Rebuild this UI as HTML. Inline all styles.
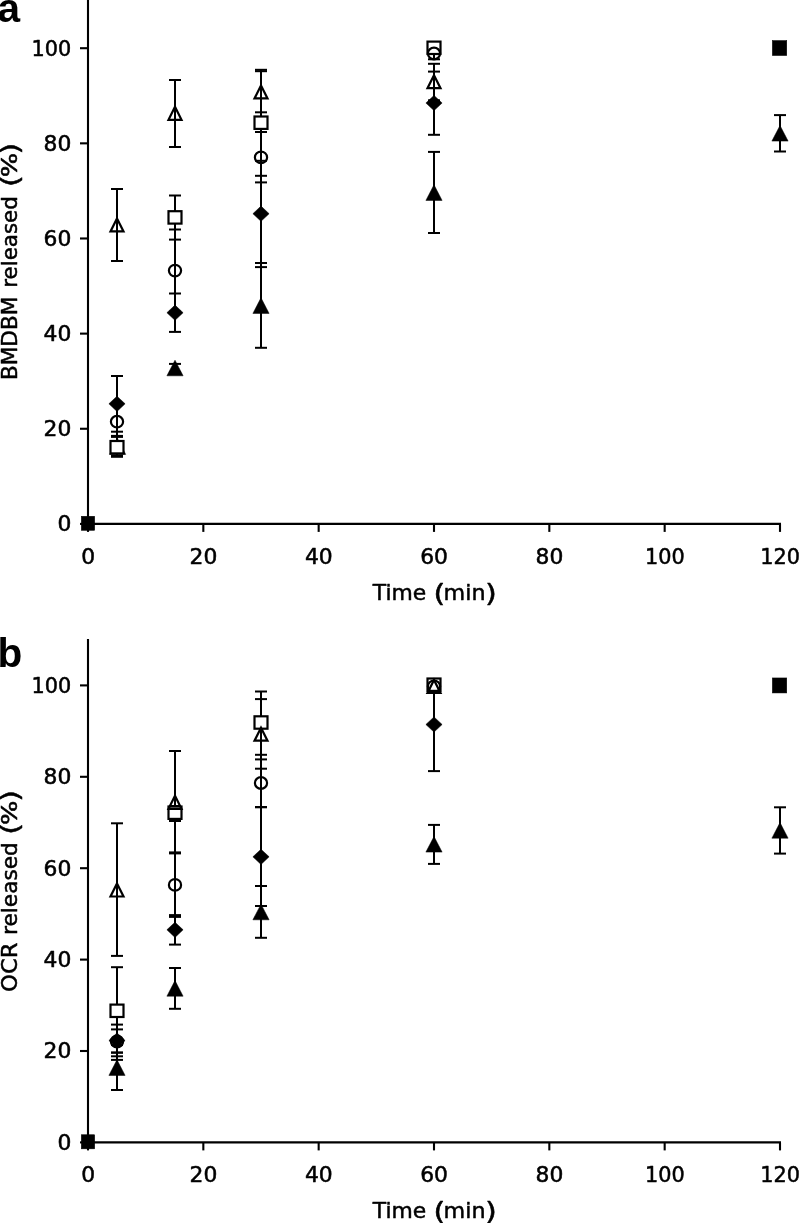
<!DOCTYPE html>
<html lang="en"><head><meta charset="utf-8"><title>Release profiles</title>
<style>
html,body{margin:0;padding:0;background:#fff}
body{width:799px;height:1223px;overflow:hidden}
svg{display:block}
text{font-family:"DejaVu Sans", "Liberation Sans", sans-serif;fill:#000;stroke:#000;stroke-width:0.5px;stroke-linejoin:round}
.tl text{font-size:20.4px}
.tt{font-size:22px}
.bp{font-size:24.6px}
.pl{font-family:"Liberation Sans", "DejaVu Sans", sans-serif;font-weight:700;font-size:40.6px;stroke:none}
.ax path{stroke:#000;stroke-width:2.1;fill:none}
.eb path{stroke:#000;stroke-width:2;fill:none}
.fm{fill:#000;stroke:#000;stroke-width:0.5;stroke-linejoin:miter}
.om{fill:none;stroke:#000;stroke-width:2.2;stroke-linejoin:miter}
.w{fill:#fff}
</style></head><body>
<svg width="799" height="1223" viewBox="0 0 799 1223">
<rect width="799" height="1223" fill="#fff"/>
<g class="ax">
<path d="M88 0V524.9"/>
<path d="M87 523.9H781"/>
<path d="M88 523.9V531.9"/>
<path d="M203.33 523.9V531.9"/>
<path d="M318.67 523.9V531.9"/>
<path d="M434 523.9V531.9"/>
<path d="M549.33 523.9V531.9"/>
<path d="M664.67 523.9V531.9"/>
<path d="M780 523.9V531.9"/>
<path d="M80 523.9H88"/>
<path d="M80 428.76H88"/>
<path d="M80 333.62H88"/>
<path d="M80 238.48H88"/>
<path d="M80 143.34H88"/>
<path d="M80 48.2H88"/>
</g>
<g class="tl">
<text transform="translate(71.3 531.3) scale(1.07 1)" text-anchor="end">0</text>
<text transform="translate(71.3 436.16) scale(1.07 1)" text-anchor="end">20</text>
<text transform="translate(71.3 341.02) scale(1.07 1)" text-anchor="end">40</text>
<text transform="translate(71.3 245.88) scale(1.07 1)" text-anchor="end">60</text>
<text transform="translate(71.3 150.74) scale(1.07 1)" text-anchor="end">80</text>
<text transform="translate(71.3 55.6) scale(1.02 1)" text-anchor="end">100</text>
<text transform="translate(88.1 563.6) scale(1.07 1)" text-anchor="middle">0</text>
<text transform="translate(203.43 563.6) scale(1.07 1)" text-anchor="middle">20</text>
<text transform="translate(318.77 563.6) scale(1.07 1)" text-anchor="middle">40</text>
<text transform="translate(434.1 563.6) scale(1.07 1)" text-anchor="middle">60</text>
<text transform="translate(549.43 563.6) scale(1.07 1)" text-anchor="middle">80</text>
<text transform="translate(664.77 563.6) scale(1.02 1)" text-anchor="middle">100</text>
<text transform="translate(780.1 563.6) scale(1.02 1)" text-anchor="middle">120</text>
</g>
<text class="tt"><tspan x="372.79" y="599.5" textLength="53.5" lengthAdjust="spacingAndGlyphs">Time</tspan> <tspan class="bp" x="433.55" y="601.5" textLength="11.8" lengthAdjust="spacingAndGlyphs">(</tspan><tspan x="443.6" y="599.5" textLength="41.9" lengthAdjust="spacingAndGlyphs">min</tspan><tspan class="bp" x="484.95" y="601.5" textLength="11.8" lengthAdjust="spacingAndGlyphs">)</tspan></text>
<text class="tt" transform="translate(16.6 0) rotate(-90)"><tspan x="-380" y="0" textLength="83.3" lengthAdjust="spacingAndGlyphs">BMDBM</tspan> <tspan x="-287.8" y="0" textLength="91.6" lengthAdjust="spacingAndGlyphs">released</tspan> <tspan class="bp" x="-186.95" y="2" textLength="11.8" lengthAdjust="spacingAndGlyphs">(</tspan><tspan x="-177.35" y="0" textLength="24.5" lengthAdjust="spacingAndGlyphs">%</tspan><tspan class="bp" x="-154.45" y="2" textLength="11.8" lengthAdjust="spacingAndGlyphs">)</tspan></text>
<text class="pl" x="-2.6" y="21.8">a</text>
<g class="eb">
<path d="M117 189V261"/>
<path d="M111 189H123"/>
<path d="M111 261H123"/>
<path d="M117 376V431.7"/>
<path d="M111 376H123"/>
<path d="M111 431.7H123"/>
<path d="M117 404V435.9"/>
<path d="M111 404H123"/>
<path d="M111 435.9H123"/>
<path d="M117 436.9V456.8"/>
<path d="M111 436.9H123"/>
<path d="M111 456.8H123"/>
<path d="M117 442V455.5"/>
<path d="M111 442H123"/>
<path d="M111 455.5H123"/>
<path d="M175 80V147"/>
<path d="M169 80H181"/>
<path d="M169 147H181"/>
<path d="M175 195.5V239.6"/>
<path d="M169 195.5H181"/>
<path d="M169 239.6H181"/>
<path d="M175 229.5V311.7"/>
<path d="M169 229.5H181"/>
<path d="M169 311.7H181"/>
<path d="M175 293.5V331.9"/>
<path d="M169 293.5H181"/>
<path d="M169 331.9H181"/>
<path d="M175 363.9V372.1"/>
<path d="M169 363.9H181"/>
<path d="M169 372.1H181"/>
<path d="M261 71.2V112.3"/>
<path d="M255 71.2H267"/>
<path d="M255 112.3H267"/>
<path d="M261 69.8V175.8"/>
<path d="M255 69.8H267"/>
<path d="M255 175.8H267"/>
<path d="M261 132V182.4"/>
<path d="M255 132H267"/>
<path d="M255 182.4H267"/>
<path d="M261 160.8V267.1"/>
<path d="M255 160.8H267"/>
<path d="M255 267.1H267"/>
<path d="M261 263V347.8"/>
<path d="M255 263H267"/>
<path d="M255 347.8H267"/>
<path d="M434 48V59.3"/>
<path d="M428 48H440"/>
<path d="M428 59.3H440"/>
<path d="M434 63.8V100.3"/>
<path d="M428 63.8H440"/>
<path d="M428 100.3H440"/>
<path d="M434 71.6V134.8"/>
<path d="M428 71.6H440"/>
<path d="M428 134.8H440"/>
<path d="M434 151.9V233"/>
<path d="M428 151.9H440"/>
<path d="M428 233H440"/>
<path d="M780 115.1V151.5"/>
<path d="M774 115.1H786"/>
<path d="M774 151.5H786"/>
</g>
<polygon class="fm" points="117.6,438.8 125.7,454.4 109.5,454.4"/>
<polygon class="fm" points="175,360.2 183.1,375.8 166.9,375.8"/>
<polygon class="fm" points="261,297.8 269.1,313.4 252.9,313.4"/>
<polygon class="fm" points="434,184.8 442.1,200.4 425.9,200.4"/>
<polygon class="fm" points="780,125.5 788.1,141.1 771.9,141.1"/>
<polygon class="fm" points="117,396.2 125.1,403.8 117,411.4 108.9,403.8"/>
<polygon class="fm" points="175,305.1 183.1,312.7 175,320.3 166.9,312.7"/>
<polygon class="fm" points="261,206.1 269.1,213.7 261,221.3 252.9,213.7"/>
<polygon class="fm" points="434,95.4 442.1,103 434,110.6 425.9,103"/>
<rect class="om w" x="110.5" y="441" width="13" height="12.4"/>
<rect class="om w" x="168.5" y="211.2" width="13" height="12.4"/>
<rect class="om w" x="254.5" y="116.5" width="13" height="12.4"/>
<rect class="om w" x="427.5" y="41.6" width="13" height="12.4"/>
<ellipse class="om" cx="117" cy="421.7" rx="6.1" ry="5.8"/>
<ellipse class="om" cx="175" cy="270.6" rx="6.1" ry="5.8"/>
<ellipse class="om" cx="261" cy="157.4" rx="6.1" ry="5.8"/>
<ellipse class="om" cx="434" cy="53.5" rx="6.1" ry="5.8"/>
<polygon class="om" points="117,218.4 123.5,231.4 110.5,231.4"/>
<polygon class="om" points="175,106.8 181.5,119.8 168.5,119.8"/>
<polygon class="om" points="261,85.4 267.5,98.4 254.5,98.4"/>
<polygon class="om" points="434,75.2 440.5,88.2 427.5,88.2"/>
<rect class="fm" x="772.35" y="40.55" width="14.4" height="15"/>
<rect class="fm" x="81.3" y="516.25" width="13.4" height="14.1"/>
<g class="ax">
<path d="M88 639V1143.4"/>
<path d="M87 1142.4H781"/>
<path d="M88 1142.4V1150.4"/>
<path d="M203.33 1142.4V1150.4"/>
<path d="M318.67 1142.4V1150.4"/>
<path d="M434 1142.4V1150.4"/>
<path d="M549.33 1142.4V1150.4"/>
<path d="M664.67 1142.4V1150.4"/>
<path d="M780 1142.4V1150.4"/>
<path d="M80 1142.4H88"/>
<path d="M80 1051H88"/>
<path d="M80 959.6H88"/>
<path d="M80 868.2H88"/>
<path d="M80 776.8H88"/>
<path d="M80 685.4H88"/>
</g>
<g class="tl">
<text transform="translate(71.3 1149.8) scale(1.07 1)" text-anchor="end">0</text>
<text transform="translate(71.3 1058.4) scale(1.07 1)" text-anchor="end">20</text>
<text transform="translate(71.3 967) scale(1.07 1)" text-anchor="end">40</text>
<text transform="translate(71.3 875.6) scale(1.07 1)" text-anchor="end">60</text>
<text transform="translate(71.3 784.2) scale(1.07 1)" text-anchor="end">80</text>
<text transform="translate(71.3 692.8) scale(1.02 1)" text-anchor="end">100</text>
<text transform="translate(88.1 1182.1) scale(1.07 1)" text-anchor="middle">0</text>
<text transform="translate(203.43 1182.1) scale(1.07 1)" text-anchor="middle">20</text>
<text transform="translate(318.77 1182.1) scale(1.07 1)" text-anchor="middle">40</text>
<text transform="translate(434.1 1182.1) scale(1.07 1)" text-anchor="middle">60</text>
<text transform="translate(549.43 1182.1) scale(1.07 1)" text-anchor="middle">80</text>
<text transform="translate(664.77 1182.1) scale(1.02 1)" text-anchor="middle">100</text>
<text transform="translate(780.1 1182.1) scale(1.02 1)" text-anchor="middle">120</text>
</g>
<text class="tt"><tspan x="372.79" y="1218" textLength="53.5" lengthAdjust="spacingAndGlyphs">Time</tspan> <tspan class="bp" x="433.55" y="1220" textLength="11.8" lengthAdjust="spacingAndGlyphs">(</tspan><tspan x="443.6" y="1218" textLength="41.9" lengthAdjust="spacingAndGlyphs">min</tspan><tspan class="bp" x="484.95" y="1220" textLength="11.8" lengthAdjust="spacingAndGlyphs">)</tspan></text>
<text class="tt" transform="translate(16.6 0) rotate(-90)"><tspan x="-991.9" y="0" textLength="49.4" lengthAdjust="spacingAndGlyphs">OCR</tspan> <tspan x="-935" y="0" textLength="92.8" lengthAdjust="spacingAndGlyphs">released</tspan> <tspan class="bp" x="-834.85" y="2" textLength="11.8" lengthAdjust="spacingAndGlyphs">(</tspan><tspan x="-825.05" y="0" textLength="24.5" lengthAdjust="spacingAndGlyphs">%</tspan><tspan class="bp" x="-801.75" y="2" textLength="11.8" lengthAdjust="spacingAndGlyphs">)</tspan></text>
<text class="pl" x="-2.6" y="666.8">b</text>
<g class="eb">
<path d="M117 823.3V955.9"/>
<path d="M111 823.3H123"/>
<path d="M111 955.9H123"/>
<path d="M117 967.2V1052.6"/>
<path d="M111 967.2H123"/>
<path d="M111 1052.6H123"/>
<path d="M117 1024.6V1056.3"/>
<path d="M111 1024.6H123"/>
<path d="M111 1056.3H123"/>
<path d="M117 1029.4V1052.6"/>
<path d="M111 1029.4H123"/>
<path d="M111 1052.6H123"/>
<path d="M117 1045V1090"/>
<path d="M111 1045H123"/>
<path d="M111 1090H123"/>
<path d="M175 751V852.4"/>
<path d="M169 751H181"/>
<path d="M169 852.4H181"/>
<path d="M175 806V821"/>
<path d="M169 806H181"/>
<path d="M169 821H181"/>
<path d="M175 853.4V916.9"/>
<path d="M169 853.4H181"/>
<path d="M169 916.9H181"/>
<path d="M175 915.1V944.6"/>
<path d="M169 915.1H181"/>
<path d="M169 944.6H181"/>
<path d="M175 968V1008.8"/>
<path d="M169 968H181"/>
<path d="M169 1008.8H181"/>
<path d="M261 691.5V754.8"/>
<path d="M255 691.5H267"/>
<path d="M255 754.8H267"/>
<path d="M261 699.1V768.7"/>
<path d="M255 699.1H267"/>
<path d="M255 768.7H267"/>
<path d="M261 759.4V807"/>
<path d="M255 759.4H267"/>
<path d="M255 807H267"/>
<path d="M261 807.3V906"/>
<path d="M255 807.3H267"/>
<path d="M255 906H267"/>
<path d="M261 886V937.8"/>
<path d="M255 886H267"/>
<path d="M255 937.8H267"/>
<path d="M434 682V771.1"/>
<path d="M428 682H440"/>
<path d="M428 771.1H440"/>
<path d="M434 824.9V863.9"/>
<path d="M428 824.9H440"/>
<path d="M428 863.9H440"/>
<path d="M780 807.3V853.6"/>
<path d="M774 807.3H786"/>
<path d="M774 853.6H786"/>
<path d="M111 1059.9H123"/>
</g>
<polygon class="fm" points="117,1059.8 125.1,1075.4 108.9,1075.4"/>
<polygon class="fm" points="175,980.6 183.1,996.2 166.9,996.2"/>
<polygon class="fm" points="261,904.2 269.1,919.8 252.9,919.8"/>
<polygon class="fm" points="434,836.5 442.1,852.1 425.9,852.1"/>
<polygon class="fm" points="780,822.6 788.1,838.2 771.9,838.2"/>
<polygon class="fm" points="117,1032.9 125.1,1040.5 117,1048.1 108.9,1040.5"/>
<polygon class="fm" points="175,922.2 183.1,929.8 175,937.4 166.9,929.8"/>
<polygon class="fm" points="261,849.2 269.1,856.8 261,864.4 252.9,856.8"/>
<polygon class="fm" points="434,716.9 442.1,724.5 434,732.1 425.9,724.5"/>
<rect class="om w" x="110.5" y="1004.6" width="13" height="12.4"/>
<rect class="om w" x="168.5" y="806.5" width="13" height="12.4"/>
<rect class="om w" x="254.5" y="716.3" width="13" height="12.4"/>
<rect class="om w" x="427.5" y="678.5" width="13" height="12.4"/>
<ellipse class="om" cx="117" cy="1041.5" rx="6.1" ry="5.8"/>
<ellipse class="om" cx="175" cy="884.9" rx="6.1" ry="5.8"/>
<ellipse class="om" cx="261" cy="783" rx="6.1" ry="5.8"/>
<ellipse class="om" cx="434" cy="686.4" rx="6.1" ry="5.8"/>
<polygon class="om" points="117,883.5 123.5,896.5 110.5,896.5"/>
<polygon class="om" points="175,795.8 181.5,808.8 168.5,808.8"/>
<polygon class="om" points="261,727.7 267.5,740.7 254.5,740.7"/>
<polygon class="om" points="434,679.9 440.5,692.9 427.5,692.9"/>
<rect class="fm" x="772.35" y="677.95" width="14.4" height="15"/>
<rect class="fm" x="81.3" y="1134.75" width="13.4" height="14.1"/>
</svg>
</body></html>
